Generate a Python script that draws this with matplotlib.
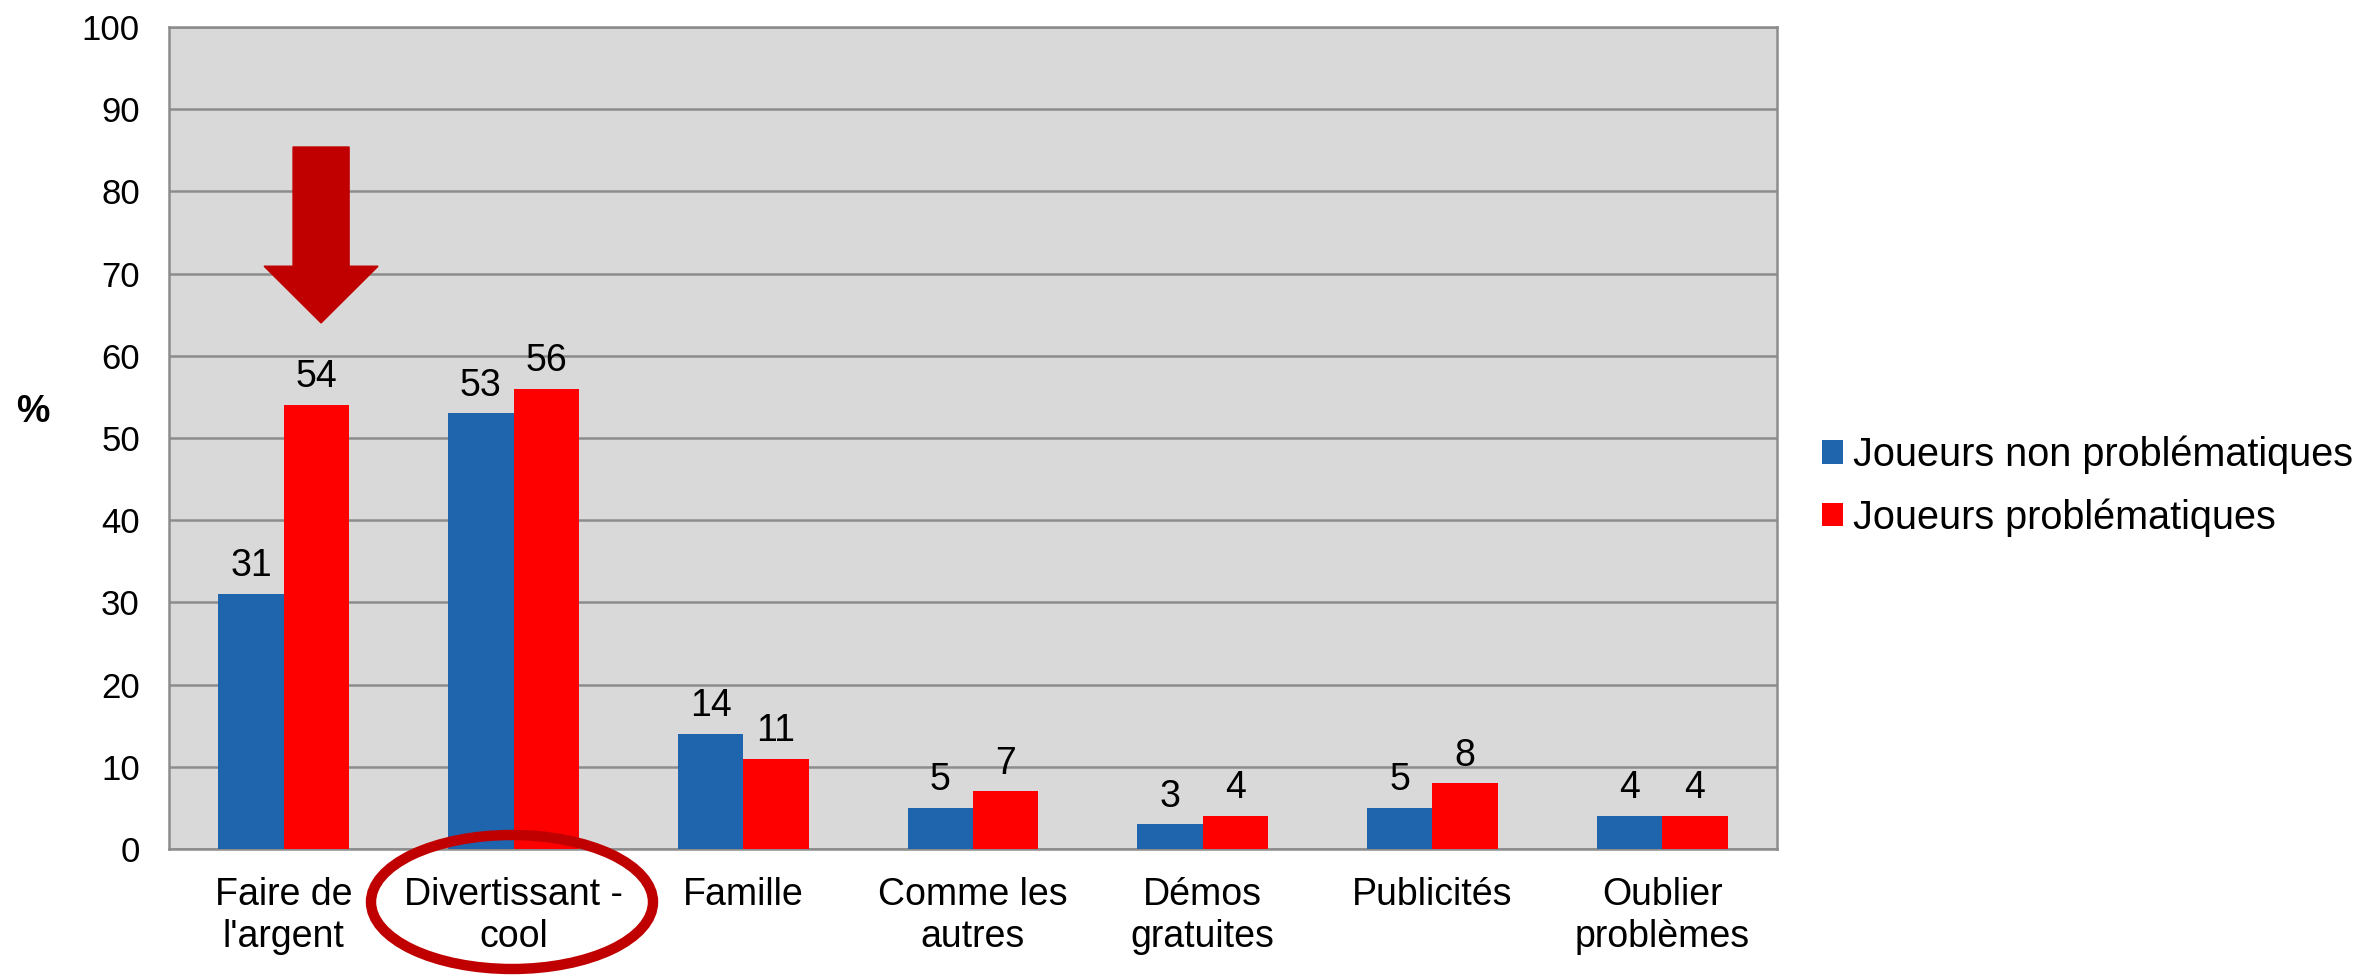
import numpy as np
import matplotlib.pyplot as plt
from matplotlib.patches import Ellipse, Polygon

plt.rcParams['font.family'] = ['Liberation Sans', 'DejaVu Sans']

# Données
categories = ["Faire de\nl'argent", "Divertissant -\ncool", "Famille", "Comme les\nautres",
              "Démos\ngratuites", "Publicités", "Oublier\nproblèmes"]
non_problematiques = [31, 53, 14, 5, 3, 5, 4]
problematiques = [54, 56, 11, 7, 4, 8, 4]
series_labels = ["Joueurs non problématiques", "Joueurs problématiques"]
yticks = list(range(0, 101, 10))

blue = "#1F65AD"
red = "#FF0000"
dark_red = "#C00000"

fig = plt.figure(figsize=(23.61, 9.75), dpi=100)
ax = fig.add_axes([169 / 2361, 1 - 849 / 975, (1777 - 169) / 2361, (849 - 27) / 975])
ax.set_facecolor("#D9D9D9")

x = np.arange(len(categories))
w = 0.285
b1 = ax.bar(x - w / 2, non_problematiques, w, color=blue, label=series_labels[0], zorder=3)
b2 = ax.bar(x + w / 2, problematiques, w, color=red, label=series_labels[1], zorder=3)

# Étiquettes de valeurs
for bars in (b1, b2):
    for rect in bars:
        h = rect.get_height()
        ax.annotate(f"{h:g}", (rect.get_x() + rect.get_width() / 2, h),
                    xytext=(0, 7), textcoords="offset points",
                    ha="center", va="bottom", fontsize=27, zorder=4)

ax.set_xlim(-0.5, len(categories) - 0.5)
ax.set_ylim(0, 100)
ax.set_yticks(yticks)
ax.tick_params(axis="y", labelsize=25, length=0, pad=21)
ax.set_xticks(x)
ax.set_xticklabels(categories, fontsize=27, linespacing=1.24)
ax.tick_params(axis="x", length=0, pad=20)
ax.grid(axis="y", color="#8C8C8C", linewidth=1.8, zorder=1)
for s in ax.spines.values():
    s.set_color("#8C8C8C")
    s.set_linewidth(1.8)

fig.text(33 / 2361, 1 - 412 / 975, "%", fontsize=27, fontweight="bold", ha="center", va="center")

leg = fig.legend(handles=[b1, b2], labels=series_labels, loc="center left",
                 bbox_to_anchor=(1822 / 2361, 1 - 486 / 975), frameon=False, fontsize=28.5,
                 handlelength=0.53, handleheight=0.53, handletextpad=0.25, labelspacing=0.61,
                 borderpad=0, borderaxespad=0)

# Flèche rouge
cx, top, base, tip, sw, hw = 0.162, 85.4, 70.9, 64.0, 0.122, 0.248
arrow = Polygon([[cx - sw, top], [cx + sw, top], [cx + sw, base], [cx + hw, base],
                 [cx, tip], [cx - hw, base], [cx - sw, base]],
                closed=True, facecolor=dark_red, edgecolor=dark_red, zorder=5)
ax.add_patch(arrow)

# Ellipse autour de "Divertissant - cool"
ell = Ellipse((512 / 2361, 1 - 902 / 975), 282 / 2361, 134 / 975, transform=fig.transFigure,
              fill=False, edgecolor=dark_red, linewidth=7.5, zorder=10)
fig.patches.append(ell)

fig.savefig("out.png", dpi=100)
